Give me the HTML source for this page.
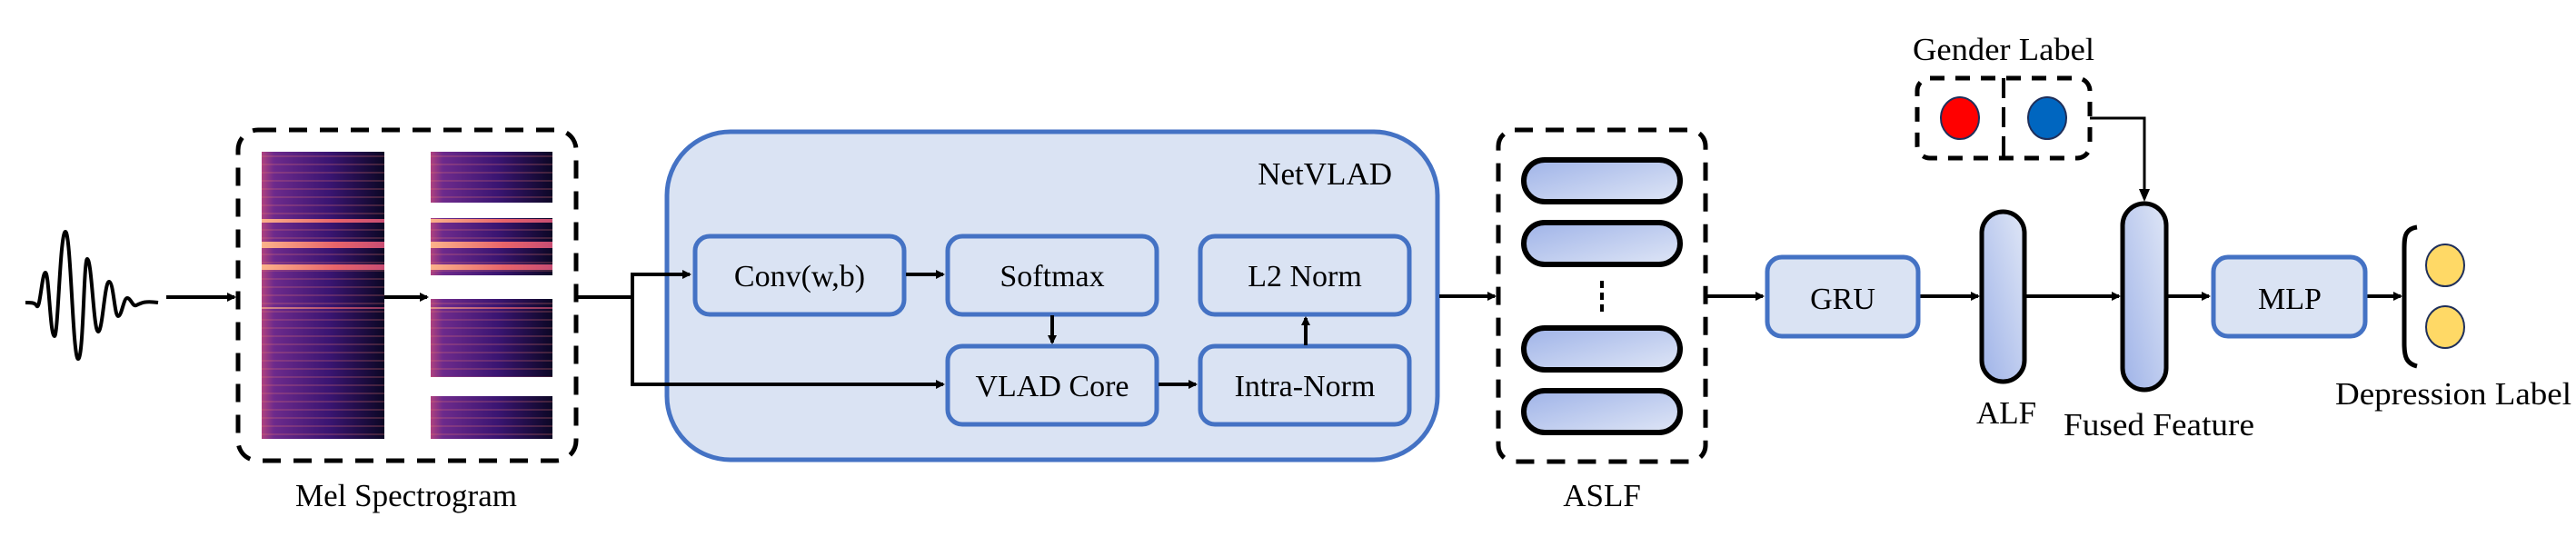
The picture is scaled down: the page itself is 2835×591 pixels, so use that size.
<!DOCTYPE html>
<html><head><meta charset="utf-8"><style>
html,body{margin:0;padding:0;background:#fff;}
svg{display:block;}
</style></head><body>
<svg width="2835" height="591" viewBox="0 0 2835 591" xmlns="http://www.w3.org/2000/svg" font-family="'Liberation Serif', 'Times New Roman', serif">
<defs>
<marker id="ah" markerWidth="10" markerHeight="10" refX="8" refY="5" orient="auto" markerUnits="userSpaceOnUse" viewBox="0 0 10 10">
<path d="M0,0 L10,5 L0,10 z" fill="#000"/></marker>
<linearGradient id="specH" x1="0" y1="0" x2="1" y2="0">
<stop offset="0" stop-color="#b0427f"/><stop offset="0.1" stop-color="#6d2a8c"/>
<stop offset="0.55" stop-color="#3a1572"/><stop offset="1" stop-color="#0c0725"/></linearGradient>
<linearGradient id="band" x1="0" y1="0" x2="1" y2="0">
<stop offset="0" stop-color="#fcb38a"/><stop offset="0.6" stop-color="#e8646a"/><stop offset="1" stop-color="#c84d73"/></linearGradient>
<pattern id="stripes" width="6" height="9" patternUnits="userSpaceOnUse">
<rect width="6" height="2" fill="#e07070" opacity="0.25"/></pattern>
<linearGradient id="pillH" x1="0" y1="0" x2="1" y2="1">
<stop offset="0" stop-color="#9fb3e8"/><stop offset="1" stop-color="#dfe6f6"/></linearGradient>
<linearGradient id="pillV" x1="1" y1="0" x2="0" y2="1">
<stop offset="0" stop-color="#dfe6f6"/><stop offset="1" stop-color="#9fb3e8"/></linearGradient>
</defs>

<!-- waveform -->
<path d="M28,333 C34,333 38,333 40,336 C44,345 46,300 50,300 C54,300 55,370 60,370 C64,370 66,255 72,255 C78,255 80,395 86,395 C92,395 92,285 96,285 C101,285 103,365 108,365 C113,365 115,310 120,310 C125,310 126,348 130,348 C134,348 136,328 140,328 C144,328 146,338 150,336 C156,333 160,331 174,333" fill="none" stroke="#000" stroke-width="4"/>
<line x1="183" y1="327" x2="258" y2="327" stroke="#000" stroke-width="4" marker-end="url(#ah)"/>

<!-- Mel box -->
<rect x="262" y="143" width="372" height="364" rx="22" fill="none" stroke="#000" stroke-width="5" stroke-dasharray="20 14"/>
<g>
<rect x="288" y="167" width="135" height="316" fill="url(#specH)"/>
<rect x="288" y="167" width="135" height="316" fill="url(#stripes)"/>
<rect x="288" y="241" width="135" height="4" fill="url(#band)"/>
<rect x="288" y="266" width="135" height="7" fill="url(#band)"/>
<rect x="288" y="291" width="135" height="6" fill="url(#band)"/>
<rect x="288" y="338" width="135" height="2" fill="url(#band)" opacity="0.7"/>
<rect x="474" y="167" width="134" height="56" fill="url(#specH)"/>
<rect x="474" y="167" width="134" height="56" fill="url(#stripes)"/>
<rect x="474" y="240" width="134" height="63" fill="url(#specH)"/>
<rect x="474" y="240" width="134" height="63" fill="url(#stripes)"/>
<rect x="474" y="241" width="134" height="4" fill="url(#band)"/>
<rect x="474" y="266" width="134" height="7" fill="url(#band)"/>
<rect x="474" y="291" width="134" height="6" fill="url(#band)"/>
<rect x="474" y="329" width="134" height="86" fill="url(#specH)"/>
<rect x="474" y="329" width="134" height="86" fill="url(#stripes)"/>
<rect x="474" y="338" width="134" height="2" fill="url(#band)" opacity="0.7"/>
<rect x="474" y="436" width="134" height="47" fill="url(#specH)"/>
<rect x="474" y="436" width="134" height="47" fill="url(#stripes)"/>
</g>
<line x1="423" y1="327" x2="470" y2="327" stroke="#000" stroke-width="4" marker-end="url(#ah)"/>
<text x="447" y="557" font-size="35" text-anchor="middle">Mel Spectrogram</text>

<!-- connectors to NetVLAD -->
<polyline points="634,327 696,327" fill="none" stroke="#000" stroke-width="4"/>
<line x1="696" y1="300" x2="696" y2="425" stroke="#000" stroke-width="4"/>

<!-- NetVLAD -->
<rect x="734" y="145" width="848" height="361" rx="70" fill="#dae3f3" stroke="#4472c4" stroke-width="5"/>
<text x="1532" y="203" font-size="35" text-anchor="end">NetVLAD</text>
<g fill="#dae3f3" stroke="#4472c4" stroke-width="5">
<rect x="765" y="260" width="230" height="86" rx="16"/>
<rect x="1043" y="260" width="230" height="86" rx="16"/>
<rect x="1321" y="260" width="230" height="86" rx="16"/>
<rect x="1043" y="381" width="230" height="86" rx="16"/>
<rect x="1321" y="381" width="230" height="86" rx="16"/>
</g>
<line x1="694" y1="302" x2="759" y2="302" stroke="#000" stroke-width="4" marker-end="url(#ah)"/>
<line x1="694" y1="423" x2="1038" y2="423" stroke="#000" stroke-width="4" marker-end="url(#ah)"/>
<g font-size="34" text-anchor="middle">
<text x="880" y="315">Conv(w,b)</text>
<text x="1158" y="315">Softmax</text>
<text x="1436" y="315">L2 Norm</text>
<text x="1158" y="436">VLAD Core</text>
<text x="1436" y="436">Intra-Norm</text>
</g>
<g stroke="#000" stroke-width="4">
<line x1="997" y1="302" x2="1038" y2="302" marker-end="url(#ah)"/>
<line x1="1275" y1="423" x2="1316" y2="423" marker-end="url(#ah)"/>
<line x1="1158" y1="347" x2="1158" y2="377" marker-end="url(#ah)"/>
<line x1="1437" y1="380" x2="1437" y2="350" marker-end="url(#ah)"/>
<line x1="1584" y1="326" x2="1645" y2="326" marker-end="url(#ah)"/>
</g>

<!-- ASLF -->
<rect x="1649" y="143" width="228" height="365" rx="18" fill="none" stroke="#000" stroke-width="5" stroke-dasharray="20 14"/>
<g fill="url(#pillH)" stroke="#000" stroke-width="6">
<rect x="1677" y="176" width="172" height="46" rx="23"/>
<rect x="1677" y="245" width="172" height="46" rx="23"/>
<rect x="1677" y="361" width="172" height="46" rx="23"/>
<rect x="1677" y="430" width="172" height="46" rx="23"/>
</g>
<g fill="#000"><rect x="1761" y="309" width="4" height="8"/><rect x="1761" y="322" width="4" height="8"/><rect x="1761" y="335" width="4" height="8"/></g>
<text x="1763" y="557" font-size="35" text-anchor="middle">ASLF</text>

<g stroke="#000" stroke-width="4">
<line x1="1877" y1="326" x2="1940" y2="326" marker-end="url(#ah)"/>
<line x1="2112" y1="326" x2="2177" y2="326" marker-end="url(#ah)"/>
<line x1="2228" y1="326" x2="2332" y2="326" marker-end="url(#ah)"/>
<line x1="2384" y1="326" x2="2431" y2="326" marker-end="url(#ah)"/>
<line x1="2604" y1="326" x2="2642" y2="326" marker-end="url(#ah)"/>
</g>

<!-- GRU / MLP -->
<rect x="1945" y="283" width="166" height="87" rx="16" fill="#dae3f3" stroke="#4472c4" stroke-width="5"/>
<text x="2028" y="340" font-size="34" text-anchor="middle">GRU</text>
<rect x="2436" y="283" width="167" height="87" rx="16" fill="#dae3f3" stroke="#4472c4" stroke-width="5"/>
<text x="2520" y="340" font-size="34" text-anchor="middle">MLP</text>

<!-- ALF & fused -->
<rect x="2181" y="233" width="47" height="187" rx="23.5" fill="url(#pillV)" stroke="#000" stroke-width="5"/>
<text x="2208" y="466" font-size="35" text-anchor="middle">ALF</text>
<rect x="2336" y="224" width="48" height="205" rx="24" fill="url(#pillV)" stroke="#000" stroke-width="5"/>
<text x="2376" y="479" font-size="35" text-anchor="middle" textLength="210" lengthAdjust="spacingAndGlyphs">Fused Feature</text>

<!-- Gender -->
<text x="2205" y="66" font-size="35" text-anchor="middle" textLength="200" lengthAdjust="spacingAndGlyphs">Gender Label</text>
<rect x="2110" y="86" width="190" height="88" rx="14" fill="none" stroke="#000" stroke-width="5" stroke-dasharray="16 12"/>
<line x1="2205" y1="86" x2="2205" y2="174" stroke="#000" stroke-width="4" stroke-dasharray="22 10"/>
<ellipse cx="2157" cy="130" rx="21" ry="23" fill="#ff0000" stroke="#1f2f5a" stroke-width="2"/>
<ellipse cx="2253" cy="130" rx="21" ry="23" fill="#0066c0" stroke="#1f2f5a" stroke-width="2"/>
<polyline points="2300,130 2360,130 2360,219" fill="none" stroke="#000" stroke-width="3"/>
<path d="M2354,208 L2366,208 L2360,222 z" fill="#000"/>

<!-- Depression -->
<path d="M2660,250 C2646,252 2646,262 2646,275 L2646,378 C2646,392 2648,400 2660,403" fill="none" stroke="#000" stroke-width="5"/>
<ellipse cx="2691" cy="292" rx="21" ry="23" fill="#ffd966" stroke="#1f2f5a" stroke-width="2"/>
<ellipse cx="2691" cy="360" rx="21" ry="23" fill="#ffd966" stroke="#1f2f5a" stroke-width="2"/>
<text x="2700" y="445" font-size="35" text-anchor="middle" textLength="260" lengthAdjust="spacingAndGlyphs">Depression Label</text>
</svg>
</body></html>
